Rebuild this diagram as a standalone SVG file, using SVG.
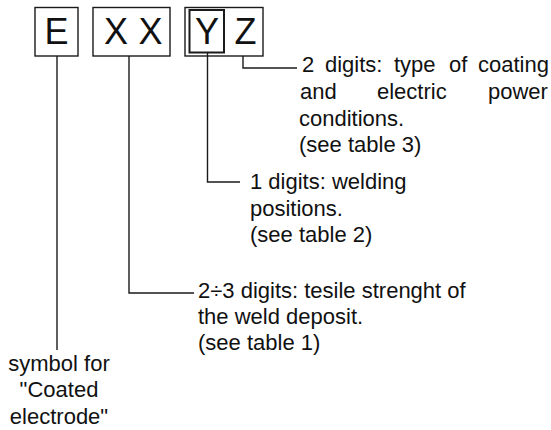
<svg xmlns="http://www.w3.org/2000/svg" width="551" height="430" viewBox="0 0 551 430">
<style>
.box{fill:none;stroke:#1a1a1a;stroke-width:1.4}
.inner{fill:none;stroke:#1a1a1a;stroke-width:2}
.big{font-family:"Liberation Sans",Arial,sans-serif;font-size:36px;fill:#111}
.lbl{font-family:"Liberation Sans",Arial,sans-serif;font-size:22px;fill:#111}
.conn{fill:none;stroke:#1a1a1a;stroke-width:1.4}
</style>
<rect width="551" height="430" fill="#ffffff"/>
<g id="node-E">
<rect class="box" x="35" y="7.5" width="43" height="48.5"/>
<text class="big" x="56.5" y="44" text-anchor="middle">E</text>
</g>
<g id="node-XX">
<rect class="box" x="93" y="7.5" width="77" height="48.5"/>
<text class="big" x="116" y="44" text-anchor="middle">X</text>
<text class="big" x="150.5" y="44" text-anchor="middle">X</text>
</g>
<g id="node-YZ">
<rect class="box" x="185" y="7.5" width="78" height="48.5"/>
<rect class="inner" x="189.5" y="10" width="34.5" height="42.5"/>
<text class="big" x="207" y="44" text-anchor="middle">Y</text>
<text class="big" x="245.5" y="44" text-anchor="middle">Z</text>
</g>
<g id="connectors">
<polyline class="conn" points="243,56 243,68 297,68"/>
<polyline class="conn" points="207.5,52.5 207.5,182 240,182"/>
<polyline class="conn" points="129,56 129,293 194,293"/>
<polyline class="conn" points="57,56 57,350"/>
</g>
<g id="label-Z">
<text class="lbl" y="72"><tspan x="302">2</tspan><tspan x="325">digits:</tspan><tspan x="394">type</tspan><tspan x="449">of</tspan><tspan x="478">coating</tspan></text>
<text class="lbl" y="99"><tspan x="300">and</tspan><tspan x="377">electric</tspan><tspan x="488">power</tspan></text>
<text class="lbl" x="299" y="126">conditions.</text>
<text class="lbl" x="299" y="151.5">(see table 3)</text>
</g>
<g id="label-Y">
<text class="lbl" x="250" y="189">1 digits: welding</text>
<text class="lbl" x="250" y="215.5">positions.</text>
<text class="lbl" x="250" y="242">(see table 2)</text>
</g>
<g id="label-XX">
<text class="lbl" x="198" y="297.5">2÷3 digits: tesile strenght of</text>
<text class="lbl" x="198" y="324">the weld deposit.</text>
<text class="lbl" x="198" y="350">(see table 1)</text>
</g>
<g id="label-E">
<text class="lbl" x="59" y="370.5" text-anchor="middle">symbol for</text>
<text class="lbl" x="59" y="397" text-anchor="middle">"Coated</text>
<text class="lbl" x="59" y="423.5" text-anchor="middle">electrode"</text>
</g>
</svg>
